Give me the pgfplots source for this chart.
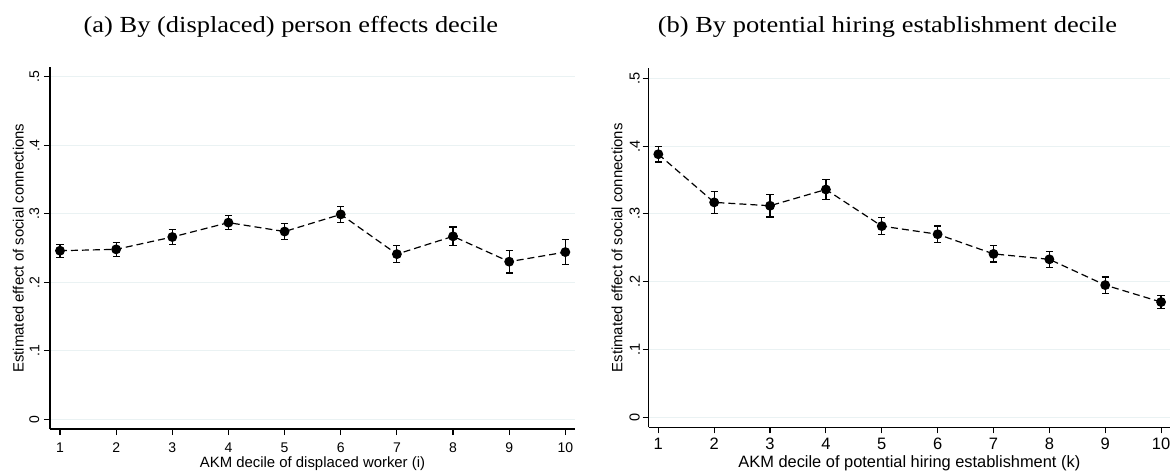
\documentclass[border=0pt]{standalone}
\usepackage{fontspec}
\setmainfont{Liberation Sans}
\newfontfamily\titlefont[FakeStretch=1.15]{Liberation Serif}
\usepackage{pgfplots}
\pgfplotsset{compat=1.18}
\definecolor{gridc}{RGB}{234,242,243}
\pgfplotstableread{
x y e
1 0.246 0.0095
2 0.248 0.0105
3 0.266 0.0105
4 0.287 0.0105
5 0.274 0.0115
6 0.299 0.0115
7 0.241 0.0125
8 0.267 0.0135
9 0.230 0.0165
10 0.244 0.0185
}\leftdata
\pgfplotstableread{
x y e
1 0.388 0.0115
2 0.317 0.016
3 0.312 0.0165
4 0.336 0.015
5 0.282 0.0125
6 0.270 0.012
7 0.241 0.012
8 0.233 0.0115
9 0.195 0.012
10 0.170 0.0095
}\rightdata
\pgfplotsset{
 stata/.style={
  scale only axis,
  axis x line=bottom, axis y line=left,
  axis line style={-, line width=1.1bp, black},
  tick align=outside,
  major tick length=6bp,
  tick style={line width=1.1bp, black},
  ytick={0,0.1,0.2,0.3,0.4,0.5},
  yticklabels={0,.1,.2,.3,.4,.5},
  xtick={1,2,3,4,5,6,7,8,9,10},
  xticklabels={1,2,3,4,5,6,7,8,9,10},
  ymajorgrids,
  grid style={gridc, line width=1.1bp},
  yticklabel style={rotate=90, anchor=south, inner sep=0pt},
  xticklabel style={anchor=base, inner sep=0pt},
  clip=false,
 },
 pt/.style={black, line width=1.2bp, dash pattern=on 7bp off 4bp, mark=*, mark size=4.3bp,
   mark options={solid, fill=black},
   error bars/.cd, y dir=both, y explicit, error mark=|,
   error bar style={solid, line width=1.2bp},
   error mark options={solid, line width=1.2bp, mark size=3.6bp}}
}
\begin{document}
\begin{tikzpicture}
\path[use as bounding box] (0,0) rectangle (1173bp,471bp);
\node[font=\titlefont\fontsize{23bp}{27bp}\selectfont, anchor=base] at (290.9bp,438.3bp) {(a) By (displaced) person effects decile};
\node[font=\titlefont\fontsize{23bp}{27bp}\selectfont, anchor=base] at (887.4bp,438.3bp) {(b) By potential hiring establishment decile};
\begin{axis}[stata,
  at={(50bp,42bp)}, anchor=south west,
  width=525bp, height=361.7bp,
  xmin=0.822, xmax=10.172, ymin=-0.0142, ymax=0.5137,
  xticklabel shift=17.7bp, yticklabel shift=4.5bp,
  ticklabel style={font=\fontsize{14bp}{16bp}\selectfont},
  xlabel={AKM decile of displaced worker (i)},
  ylabel={Estimated effect of social connections},
  label style={font=\fontsize{14.9bp}{17bp}\selectfont},
  xlabel style={at={(axis description cs:0.5,-0.107)}, anchor=base},
  ylabel style={at={(axis description cs:-0.0604,0.5)}, anchor=center},
]
\addplot[pt] table[x=x, y=y, y error=e] {\leftdata};
\end{axis}
\begin{axis}[stata,
  at={(648.7bp,43.7bp)}, anchor=south west,
  width=521.3bp, height=359bp,
  xmin=0.828, xmax=10.16, ymin=-0.0147, ymax=0.5147,
  xticklabel shift=16.5bp, yticklabel shift=2.7bp,
  xticklabel style={font=\fontsize{16.5bp}{18bp}\selectfont},
  yticklabel style={font=\fontsize{14.5bp}{16bp}\selectfont},
  xlabel={AKM decile of potential hiring establishment (k)},
  ylabel={Estimated effect of social connections},
  xlabel style={font=\fontsize{16.4bp}{18bp}\selectfont, at={(axis description cs:0.5,-0.1125)}, anchor=base},
  ylabel style={font=\fontsize{14.9bp}{17bp}\selectfont, at={(axis description cs:-0.0608,0.5)}, anchor=center},
]
\addplot[pt] table[x=x, y=y, y error=e] {\rightdata};
\end{axis}
\end{tikzpicture}
\end{document}
